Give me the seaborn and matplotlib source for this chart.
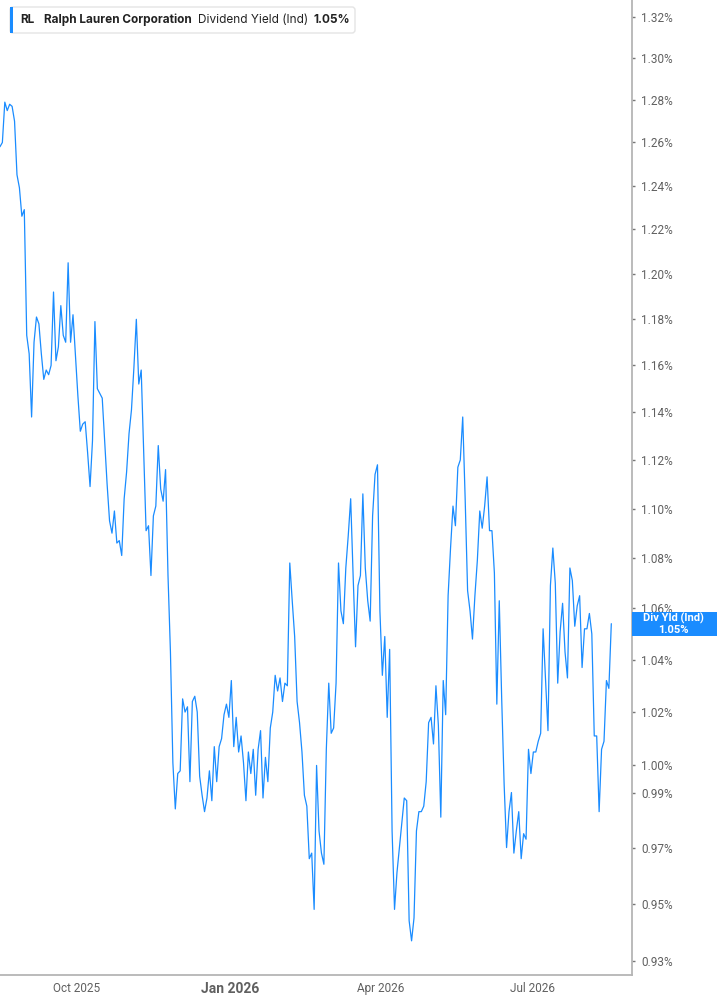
import matplotlib
matplotlib.use("Agg")
import matplotlib.pyplot as plt
import matplotlib.dates as mdates
from matplotlib.patches import FancyBboxPatch, Rectangle
from matplotlib.ticker import FixedLocator, NullLocator
from matplotlib.transforms import IdentityTransform
import pandas as pd
import seaborn as sns

# ── Labels ───────────────────────────────────────────────────────────
TICKER = "RL"
COMPANY = "Ralph Lauren Corporation"
METRIC = "Dividend Yield (Ind)"
LAST_TEXT = "1.05%"
BADGE_TEXT = "Div Yld (Ind)"

# ── Data: daily dividend yield in % ──────────────────────────────────
yield_aug_oct25 = [
    1.258, 1.260, 1.279, 1.275, 1.278, 1.277, 1.270, 1.245, 1.239, 1.226,
    1.229, 1.173, 1.165, 1.138, 1.170, 1.181, 1.178, 1.165, 1.154, 1.158,
    1.156, 1.160, 1.192, 1.162, 1.168, 1.186, 1.173, 1.170, 1.205, 1.170,
    1.182, 1.164, 1.147, 1.132, 1.135, 1.136, 1.123, 1.109, 1.128, 1.179,
    1.150, 1.148, 1.146,
]
yield_oct_nov25 = [
    1.128, 1.110, 1.095, 1.090, 1.099, 1.086, 1.087, 1.081, 1.104, 1.115,
    1.131, 1.141, 1.159, 1.180, 1.152, 1.158, 1.124, 1.091, 1.093, 1.073,
    1.097, 1.101, 1.126, 1.108, 1.103, 1.116, 1.073, 1.043, 1.001, 0.984,
    0.997, 0.998, 1.025, 1.020, 1.022, 0.994, 1.024, 1.026, 1.020, 0.996,
]
yield_nov25_feb26 = [
    0.989, 0.983, 0.988, 0.998, 0.987, 1.007, 0.994, 1.007, 1.010, 1.019,
    1.023, 1.018, 1.032, 1.007, 1.018, 1.005, 1.011, 1.001, 0.987, 1.005,
    0.997, 1.006, 0.989, 1.006, 1.013, 0.988, 1.003, 0.994, 1.014, 1.020,
    1.034, 1.028, 1.033, 1.024, 1.031, 1.030, 1.078, 1.063, 1.049, 1.024,
    1.016, 1.005, 0.989, 0.985, 0.966,
]
yield_feb_apr26 = [
    0.968, 0.948, 1.000, 0.976, 0.968, 0.964, 1.006, 1.031, 1.012, 1.014,
    1.031, 1.078, 1.059, 1.054, 1.076, 1.089, 1.104, 1.073, 1.045, 1.069,
    1.073, 1.106, 1.076, 1.063, 1.055, 1.097, 1.114, 1.118, 1.059, 1.034,
    1.049, 1.018, 1.044, 0.976, 0.948, 0.961, 0.970, 0.979, 0.988, 0.987,
    0.944, 0.937, 0.945,
]
yield_apr_jun26 = [
    0.976, 0.983, 0.983, 0.985, 0.994, 1.016, 1.018, 1.008, 1.030, 1.015,
    0.981, 1.032, 1.019, 1.065, 1.084, 1.101, 1.093, 1.117, 1.120, 1.138,
    1.104, 1.067, 1.059, 1.048, 1.065, 1.079, 1.099, 1.092, 1.101, 1.113,
    1.091, 1.091, 1.074, 1.023, 1.063, 1.025, 0.993, 0.970, 0.983,
]
yield_jun_aug26 = [
    0.990, 0.968, 0.976, 0.983, 0.966, 0.975, 0.973, 1.006, 0.997, 1.005,
    1.005, 1.009, 1.012, 1.052, 1.032, 1.013, 1.069, 1.084, 1.070, 1.031,
    1.051, 1.062, 1.043, 1.033, 1.076, 1.071, 1.053, 1.061, 1.065, 1.037,
    1.052, 1.052, 1.058, 1.050, 1.011, 1.011, 0.983, 1.006, 1.009, 1.032,
    1.029, 1.054,
]

first_day = "2025-08-15 18:00"
last_day = "2026-08-17 14:00"
x_range = ("2025-08-15 19:00", "2026-08-30")
y_range = (0.9252, 1.3284)

x_tick_dates = ["2025-10-01", "2026-01-01", "2026-04-01", "2026-07-01"]
x_tick_labels = ["Oct 2025", "Jan 2026", "Apr 2026", "Jul 2026"]
y_tick_values = [1.32, 1.30, 1.28, 1.26, 1.24, 1.22, 1.20, 1.18, 1.16, 1.14,
                 1.12, 1.10, 1.08, 1.06, 1.04, 1.02, 1.00, 0.99, 0.97, 0.95, 0.93]

BLUE = "#1a8cff"
GREY_TXT = "#606060"
GREY_AX = "#b5b5b5"

values = (yield_aug_oct25 + yield_oct_nov25 + yield_nov25_feb26
          + yield_feb_apr26 + yield_apr_jun26 + yield_jun_aug26)
df = pd.DataFrame({
    "date": pd.date_range(first_day, last_day, periods=len(values)),
    "yield": values,
})

# ── Figure ───────────────────────────────────────────────────────────
sns.set_style("white")
plt.rcParams["font.family"] = ["Roboto", "DejaVu Sans"]

W, H = 717, 1005
fig = plt.figure(figsize=(W / 100, H / 100), dpi=100)
ax = fig.add_axes([0, 30 / H, 632 / W, 975 / H])

sns.lineplot(data=df, x="date", y="yield", color=BLUE, linewidth=0.9, ax=ax)

ax.set_yscale("log")
ax.set_xlim(pd.Timestamp(x_range[0]), pd.Timestamp(x_range[1]))
ax.set_ylim(*y_range)
ax.set_xlabel("")
ax.set_ylabel("")

ax.yaxis.tick_right()
ax.yaxis.set_major_locator(FixedLocator(y_tick_values))
ax.yaxis.set_minor_locator(NullLocator())
ax.set_yticklabels([f"{v:.2f}%" for v in y_tick_values])
ax.tick_params(axis="y", direction="out", length=2.5, width=1, color="#777777",
               labelcolor=GREY_TXT, labelsize=8.5, pad=4)

ax.set_xticks(pd.to_datetime(x_tick_dates))
ax.set_xticklabels(x_tick_labels)
ax.tick_params(axis="x", direction="out", length=3.5, width=1, color=GREY_AX,
               labelcolor=GREY_TXT, labelsize=8.5, pad=1.5)
for lbl in ax.get_xticklabels():
    if lbl.get_text().startswith("Jan"):
        lbl.set_fontweight("bold")
        lbl.set_fontsize(10)

for side in ["left", "top"]:
    ax.spines[side].set_visible(False)
for side in ["right", "bottom"]:
    ax.spines[side].set_color(GREY_AX)
    ax.spines[side].set_linewidth(1.3)
ax.grid(False)

# ── Header box (pixel coordinates, origin bottom-left) ───────────────
px = IdentityTransform()
fig.add_artist(FancyBboxPatch((10, H - 33), 345, 26, transform=px,
                              boxstyle="round,pad=0,rounding_size=3",
                              facecolor="white", edgecolor="#e4e4e4", lw=1))
fig.add_artist(Rectangle((10, H - 33), 3, 26, transform=px,
                         facecolor=BLUE, edgecolor="none"))
head_y = H - 20
head_font = ["Inter", "DejaVu Sans"]
fig.text(20, head_y, TICKER, transform=px, va="center", ha="left",
         family=head_font, fontweight="bold", fontsize=8.5, color="#222222")
fig.text(44, head_y, COMPANY, transform=px, va="center", ha="left",
         family=head_font, fontweight="bold", fontsize=8.5, color="#222222")
fig.text(198, head_y, METRIC, transform=px, va="center", ha="left",
         family=head_font, fontsize=8.5, color="#222222")
fig.text(313, head_y, LAST_TEXT, transform=px, va="center", ha="left",
         family=head_font, fontweight="bold", fontsize=8.5, color="#222222")

# ── Last-value badge on the right axis ───────────────────────────────
last_x = mdates.date2num(df["date"].iloc[-1])
last_y = float(df["yield"].iloc[-1])
yc = ax.transData.transform((last_x, last_y))[1]
fig.add_artist(Rectangle((632, yc - 12), W - 632, 24, transform=px,
                         facecolor=BLUE, edgecolor="none"))
fig.text(673, yc + 5.5, BADGE_TEXT, transform=px, va="center", ha="center",
         fontweight="bold", fontsize=8, color="white")
fig.text(673, yc - 6, LAST_TEXT, transform=px, va="center", ha="center",
         fontweight="bold", fontsize=8, color="white")

fig.savefig("out.png", dpi=100)
